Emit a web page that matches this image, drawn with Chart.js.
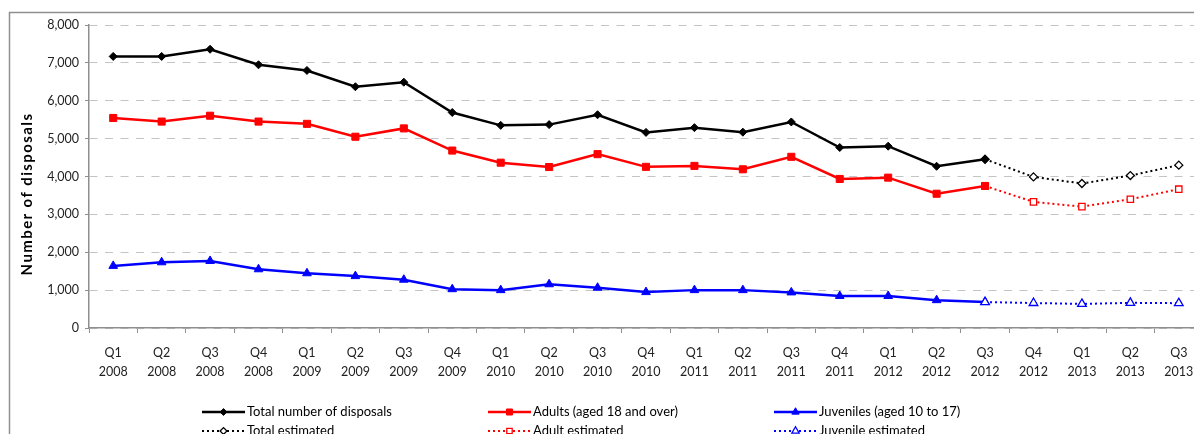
<!DOCTYPE html>
<html>
<head>
<meta charset="utf-8">
<script src="https://cdn.jsdelivr.net/npm/chart.js@4.4.1/dist/chart.umd.min.js"></script>
<style>
  html, body { margin: 0; padding: 0; background: #fff; overflow: hidden; }
  #wrap { position: relative; width: 1210px; height: 434px; }
</style>
</head>
<body>
<div id="wrap"><canvas id="c" width="1210" height="434"></canvas></div>
<script>
// Quarterly categories (label shown on two lines: quarter / year)
const categories = [
  'Q1 2008', 'Q2 2008', 'Q3 2008', 'Q4 2008',
  'Q1 2009', 'Q2 2009', 'Q3 2009', 'Q4 2009',
  'Q1 2010', 'Q2 2010', 'Q3 2010', 'Q4 2010',
  'Q1 2011', 'Q2 2011', 'Q3 2011', 'Q4 2011',
  'Q1 2012', 'Q2 2012', 'Q3 2012', 'Q4 2012',
  'Q1 2013', 'Q2 2013', 'Q3 2013'
];

// Recorded figures, Q1 2008 to Q3 2012
const totalRecorded    = [7170, 7170, 7360, 6950, 6800, 6370, 6490, 5690, 5350, 5370, 5630, 5165, 5290, 5170, 5440, 4765, 4800, 4270, 4455];
const adultsRecorded   = [5545, 5450, 5605, 5450, 5390, 5050, 5270, 4685, 4365, 4250, 4590, 4255, 4280, 4190, 4520, 3935, 3970, 3545, 3750];
const juvenileRecorded = [1640, 1735, 1770, 1550, 1445, 1370, 1275, 1025, 1000, 1155, 1063, 948, 1000, 1000, 940, 845, 845, 735, 685];

// Estimated figures, Q3 2012 to Q3 2013
const estimateStart = 'Q3 2012';
const totalEstimated    = [4455, 3990, 3815, 4025, 4300];
const adultsEstimated   = [3750, 3330, 3205, 3400, 3665];
const juvenileEstimated = [685, 660, 635, 665, 655];

const yTicks = { min: 0, max: 8000, step: 1000 };

// Place a short series on the full category axis (null where it has no value)
function placeSeries(values, firstCategory) {
  const start = categories.indexOf(firstCategory);
  return categories.map((_, i) => (i >= start && i - start < values.length) ? values[i - start] : null);
}

const FONT = 'Lato, "Liberation Sans", Arial, sans-serif';

const recordedStyle = (color, shape, radius) => ({
  borderColor: color, backgroundColor: color,
  borderWidth: 2.5, pointStyle: shape, pointRadius: radius,
  pointBackgroundColor: color, pointBorderColor: color, pointBorderWidth: 1,
  pointHoverRadius: radius, tension: 0, spanGaps: false
});
const estimatedStyle = (color, shape, radius) => ({
  borderColor: color, backgroundColor: '#ffffff',
  borderWidth: 2, borderDash: [2, 3], pointStyle: shape, pointRadius: radius,
  pointBackgroundColor: '#ffffff', pointBorderColor: color, pointBorderWidth: 1.3,
  pointHoverRadius: radius, tension: 0, spanGaps: false
});

const datasets = [
  Object.assign({ label: 'Total number of disposals', data: placeSeries(totalRecorded, categories[0]), order: 0 }, recordedStyle('#000000', 'rectRot', 4)),
  Object.assign({ label: 'Adults (aged 18 and over)', data: placeSeries(adultsRecorded, categories[0]), order: 0 }, recordedStyle('#ff0000', 'rect', 5)),
  Object.assign({ label: 'Juveniles (aged 10 to 17)', data: placeSeries(juvenileRecorded, categories[0]), order: 2 }, recordedStyle('#0000ff', 'triangle', 5)),
  Object.assign({ label: 'Total estimated', data: placeSeries(totalEstimated, estimateStart), order: 1 }, estimatedStyle('#000000', 'rectRot', 4)),
  Object.assign({ label: 'Adult estimated', data: placeSeries(adultsEstimated, estimateStart), order: 1 }, estimatedStyle('#ff0000', 'rect', 4.5)),
  Object.assign({ label: 'Juvenile estimated', data: placeSeries(juvenileEstimated, estimateStart), order: 0 }, estimatedStyle('#0000ff', 'triangle', 5))
];

// Frame, rotated axis title and a three-column legend under the axis
const decorations = {
  id: 'decorations',
  beforeDraw(chart) {
    const ctx = chart.ctx;
    ctx.save();
    ctx.fillStyle = '#ffffff';
    ctx.fillRect(0, 0, chart.width, chart.height);
    ctx.strokeStyle = '#8f8f8f';
    ctx.lineWidth = 1.5;
    ctx.beginPath();
    ctx.moveTo(9.5, chart.height + 5);
    ctx.lineTo(9.5, 12.5);
    ctx.lineTo(chart.width + 5, 12.5);
    ctx.stroke();
    ctx.restore();
  },
  afterDraw(chart, args, opts) {
    const ctx = chart.ctx;
    // y-axis title
    ctx.save();
    ctx.translate(opts.titleX, opts.titleY);
    ctx.rotate(-Math.PI / 2);
    ctx.font = 'bold 15px ' + FONT;
    ctx.letterSpacing = '1.4px';
    ctx.fillStyle = '#000';
    ctx.textAlign = 'center';
    ctx.textBaseline = 'middle';
    ctx.fillText(opts.title, 0, 0);
    ctx.restore();

    // legend
    chart.data.datasets.forEach((ds, i) => {
      const col = i % 3, row = Math.floor(i / 3);
      const tx = opts.legendX[col];
      const ty = opts.legendY[row];
      const x0 = tx - 45, x1 = tx - 2;
      ctx.save();
      ctx.strokeStyle = ds.borderColor;
      ctx.lineWidth = ds.borderWidth;
      ctx.setLineDash(ds.borderDash || []);
      ctx.beginPath();
      ctx.moveTo(x0, ty);
      ctx.lineTo(x1, ty);
      ctx.stroke();
      ctx.setLineDash([]);
      ctx.fillStyle = ds.pointBackgroundColor;
      ctx.strokeStyle = ds.pointBorderColor;
      ctx.lineWidth = ds.pointBorderWidth;
      Chart.helpers.drawPoint(ctx, {
        pointStyle: ds.pointStyle, rotation: 0,
        radius: ds.pointRadius * 0.85, borderWidth: ds.pointBorderWidth
      }, (x0 + x1) / 2, ty);
      ctx.font = '13px ' + FONT;
      ctx.fillStyle = '#000';
      ctx.textAlign = 'left';
      ctx.textBaseline = 'middle';
      ctx.fillText(ds.label, tx, ty);
      ctx.restore();
    });
  }
};

new Chart(document.getElementById('c'), {
  type: 'line',
  data: {
    labels: categories.map(c => c.split(' ')),
    datasets: datasets
  },
  options: {
    responsive: false,
    animation: false,
    devicePixelRatio: 1,
    layout: { padding: { top: 25, left: 0, right: 7, bottom: 50 } },
    plugins: {
      legend: { display: false },
      tooltip: { enabled: false },
      decorations: {
        title: 'Number of disposals', titleX: 27, titleY: 194,
        legendX: [247, 533, 819], legendY: [412, 431]
      }
    },
    scales: {
      x: {
        type: 'category',
        offset: true,
        grid: {
          display: true, drawOnChartArea: false, drawTicks: true,
          tickLength: 5, offset: true, color: '#8f8f8f', tickColor: '#8f8f8f'
        },
        border: { display: true, color: '#8f8f8f', width: 1.5 },
        ticks: {
          autoSkip: false, maxRotation: 0, minRotation: 0, padding: 10,
          color: '#222', font: { family: FONT, size: 12.5, lineHeight: '19px' }
        },
        afterFit(scale) { scale.height = 56; }
      },
      y: {
        min: yTicks.min, max: yTicks.max,
        grid: {
          color: '#c4c4c4', lineWidth: 1, drawTicks: true, tickLength: 4,
          tickColor: '#8f8f8f', tickBorderDash: []
        },
        border: { display: true, color: '#8f8f8f', width: 1.5, dash: [8, 7.5] },
        ticks: {
          stepSize: yTicks.step, padding: 6, color: '#222',
          font: { family: FONT, size: 12.5 },
          callback: v => v.toLocaleString('en-US')
        },
        afterFit(scale) { scale.width = 89; }
      }
    }
  },
  plugins: [decorations]
});
</script>
</body>
</html>
